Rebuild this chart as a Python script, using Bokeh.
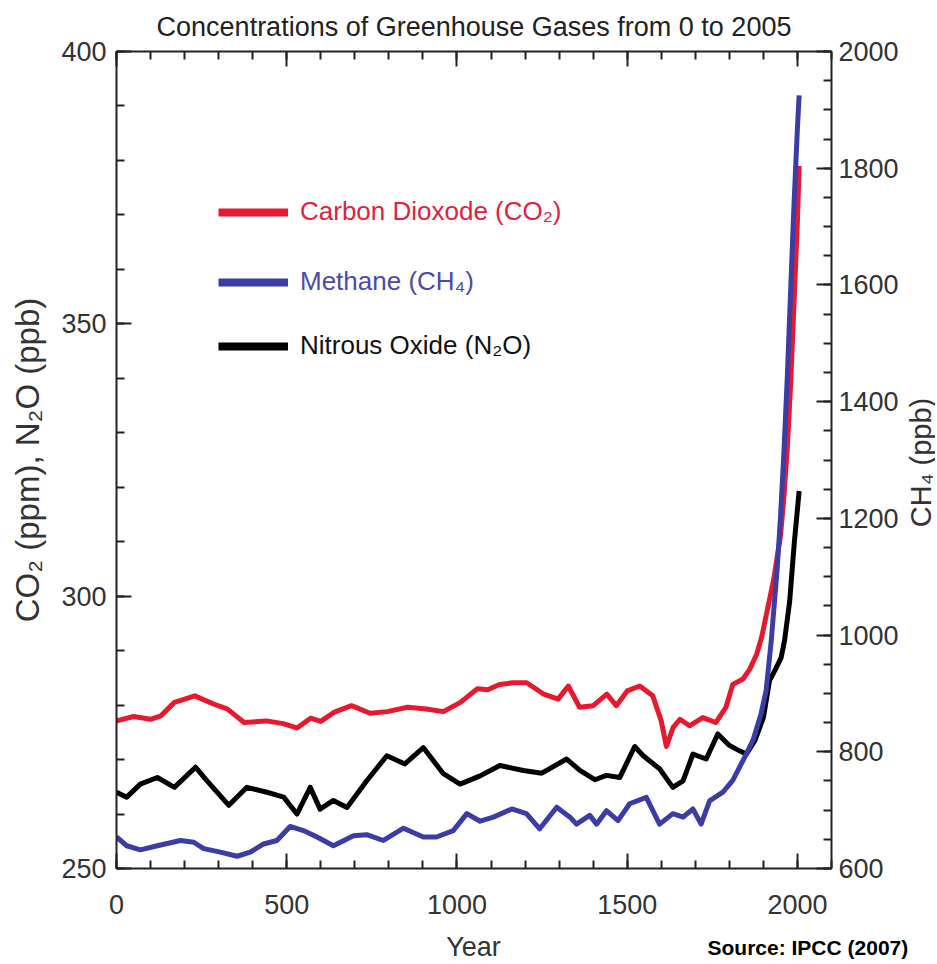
import math
from bokeh.plotting import figure
from bokeh.layouts import column, row
from bokeh.models import (Range1d, LinearAxis, SingleIntervalTicker, Label, Legend,
                          LegendItem, CustomJSTickFormatter, Title)
from bokeh.embed import file_html
from bokeh.resources import INLINE

# ---------------- data ----------------
co2_year = [0, 50, 100, 130, 170, 230, 285, 325, 375, 440, 490, 530, 570, 600, 640,
            690, 745, 795, 855, 910, 960, 1010, 1060, 1090, 1125, 1165, 1205, 1255,
            1297, 1327, 1360, 1400, 1440, 1468, 1500, 1537, 1575, 1600, 1615, 1635,
            1655, 1683, 1722, 1760, 1790, 1810, 1840, 1860, 1880, 1895, 1910, 1930,
            1950, 1960, 1970, 1980, 1990, 2000, 2005]
co2_ppm = [277.1, 277.9, 277.4, 278.0, 280.5, 281.7, 280.2, 279.3, 276.8, 277.1, 276.6,
           275.8, 277.6, 277.0, 278.7, 279.9, 278.5, 278.8, 279.6, 279.3, 278.8, 280.5,
           283.0, 282.8, 283.8, 284.1, 284.1, 282.0, 281.1, 283.5, 279.6, 279.9, 282.0,
           279.9, 282.6, 283.5, 281.7, 277.1, 272.4, 275.9, 277.4, 276.2, 277.7, 276.8,
           279.6, 283.8, 284.8, 286.6, 289.3, 292.5, 297.0, 303.0, 311.0, 318.0, 327.0,
           339.0, 354.0, 369.0, 379.0]

ch4_year = [0, 30, 70, 120, 188, 227, 256, 305, 354, 393, 432, 471, 510, 549, 589, 637,
            696, 735, 784, 843, 901, 940, 989, 1029, 1068, 1107, 1161, 1204, 1243, 1293,
            1332, 1351, 1390, 1410, 1439, 1473, 1507, 1556, 1595, 1634, 1664, 1693, 1717,
            1742, 1781, 1810, 1840, 1869, 1893, 1908, 1923, 1940, 1950, 1960, 1970, 1980,
            1990, 2000, 2005]
ch4_ppb = [654, 639, 632, 639, 648, 645, 634, 628, 621, 628, 642, 648, 672, 665, 654, 639,
           656, 658, 648, 669, 654, 654, 665, 694, 681, 688, 702, 694, 668, 705, 688, 676,
           691, 676, 699, 682, 711, 722, 676, 694, 688, 702, 676, 716, 731, 751, 785, 819,
           865, 905, 990, 1110, 1200, 1310, 1440, 1590, 1740, 1870, 1925]

n2o_year = [0, 30, 70, 120, 170, 232, 266, 330, 383, 442, 491, 530, 569, 598, 637, 677,
            735, 794, 847, 901, 960, 1009, 1068, 1126, 1195, 1249, 1322, 1361, 1405, 1439,
            1478, 1522, 1547, 1595, 1634, 1664, 1693, 1732, 1766, 1800, 1830, 1850, 1875,
            1900, 1918, 1935, 1952, 1962, 1977, 1991, 2005]
n2o_ppb = [264.0, 263.1, 265.5, 266.7, 264.9, 268.6, 266.1, 261.6, 264.9, 264.0, 263.1,
           260.0, 264.9, 260.9, 262.5, 261.2, 266.1, 270.7, 269.2, 272.2, 267.4, 265.5,
           267.0, 268.9, 268.0, 267.5, 270.1, 268.0, 266.3, 267.1, 266.7, 272.4, 270.7,
           268.3, 264.9, 266.1, 271.0, 270.1, 274.7, 272.6, 271.6, 271.0, 273.5, 277.7,
           284.5, 286.5, 288.7, 291.8, 299.0, 310.0, 319.3]

series_names = ["Carbon Dioxode (CO\u2082)", "Methane (CH\u2084)", "Nitrous Oxide (N\u2082O)"]
title_text = "Concentrations of Greenhouse Gases from 0 to 2005"
x_label = "Year"
y_label_left = "CO\u2082 (ppm), N\u2082O (ppb)"
y_label_right = "CH\u2084 (ppb)"
source_text = "Source: IPCC (2007)"

RED = "#e8192e"
BLUE = "#3b3ca6"
BLACK = "#000000"
FONT = "Liberation Sans"
W_MAIN = 901
W_STRIP = 34
H_MAIN = 928
H_FOOT = 34


def bare(fig):
    fig.outline_line_color = None
    fig.xgrid.visible = False
    fig.ygrid.visible = False
    fig.background_fill_color = "white"
    fig.border_fill_color = "white"
    if hasattr(fig, "frame_align"):
        fig.frame_align = False


p = figure(width=W_MAIN, height=H_MAIN, output_backend="svg", toolbar_location=None,
           x_range=Range1d(0, 2100), y_range=Range1d(250, 400),
           x_axis_location=None, y_axis_location=None,
           min_border_left=116, min_border_right=W_MAIN - 832, min_border_top=50,
           min_border_bottom=60)
p.extra_y_ranges = {"ch4": Range1d(600, 2000)}
bare(p)

p.title = Title(text=title_text, align="center", text_font=FONT, text_font_size="27px",
                text_font_style="normal", text_color="#222222", standoff=19)

# data lines
p.line(n2o_year, n2o_ppb, line_color=BLACK, line_width=5, line_join="round")
p.line(co2_year, co2_ppm, line_color=RED, line_width=5, line_join="round")
p.line(ch4_year, ch4_ppb, line_color=BLUE, line_width=5, line_join="round", y_range_name="ch4")

# hidden thick copies used only for the legend swatches
leg_red = p.line(co2_year, co2_ppm, line_color=RED, line_width=8, visible=False)
leg_blue = p.line(ch4_year, ch4_ppb, line_color=BLUE, line_width=8, visible=False,
                  y_range_name="ch4")
leg_black = p.line(n2o_year, n2o_ppb, line_color=BLACK, line_width=8, visible=False)


def style_axis(ax):
    ax.major_tick_in = 15
    ax.major_tick_out = 0
    ax.minor_tick_in = 8
    ax.minor_tick_out = 0
    ax.axis_line_width = 2
    ax.axis_line_color = "#222222"
    ax.major_tick_line_width = 2
    ax.minor_tick_line_width = 2
    ax.major_tick_line_color = "#222222"
    ax.minor_tick_line_color = "#222222"
    ax.major_label_text_font = FONT
    ax.major_label_text_font_size = "27px"
    ax.major_label_text_color = "#333333"
    ax.axis_label_text_font = FONT
    ax.axis_label_text_font_style = "normal"
    ax.axis_label_text_color = "#333333"


bottom = LinearAxis(ticker=SingleIntervalTicker(interval=500, num_minor_ticks=5),
                    major_label_standoff=26)
top = LinearAxis(ticker=SingleIntervalTicker(interval=500, num_minor_ticks=5),
                 formatter=CustomJSTickFormatter(code="return ''"), major_label_standoff=0)
left = LinearAxis(ticker=SingleIntervalTicker(interval=50, num_minor_ticks=5),
                  major_label_standoff=10, axis_label=y_label_left, axis_label_standoff=12)
right = LinearAxis(y_range_name="ch4", ticker=SingleIntervalTicker(interval=200, num_minor_ticks=4),
                   major_label_standoff=7)
for ax in (bottom, top, left, right):
    style_axis(ax)
top.major_label_text_font_size = "0px"
left.axis_label_text_font_size = "33px"
p.add_layout(bottom, "below")
p.add_layout(top, "above")
p.add_layout(left, "left")
p.add_layout(right, "right")

# legends (one per entry so each label keeps its own colour)
for rend, name, col, ypos in ((leg_red, series_names[0], "#e0223f", 641),
                              (leg_blue, series_names[1], "#4b4ca8", 571),
                              (leg_black, series_names[2], "#111111", 507)):
    lg = Legend(items=[LegendItem(label=name, renderers=[rend])], location=(102, ypos),
                padding=0, margin=0, border_line_color=None, background_fill_alpha=0,
                glyph_width=70, glyph_height=30, label_height=30, label_standoff=12,
                label_text_font=FONT, label_text_font_size="26px", label_text_color=col)
    p.add_layout(lg, "center")

# right strip with the CH4 axis title (reads bottom to top)
strip = figure(frame_width=W_STRIP, frame_height=H_MAIN, output_backend="svg",
               toolbar_location=None, title_location=None,
               x_range=Range1d(0, 1), y_range=Range1d(0, 1),
               x_axis_location=None, y_axis_location=None,
               min_border_left=0, min_border_right=0, min_border_top=0, min_border_bottom=0)
bare(strip)
strip.add_layout(Label(x=W_STRIP / 2 + 2, y=H_MAIN - 462, x_units="screen", y_units="screen",
                       text=y_label_right, angle=math.pi / 2,
                       text_align="center", text_baseline="middle",
                       text_font=FONT, text_font_size="29px", text_color="#333333"))

# footer strip holding the x-axis title and the source note
foot = figure(frame_width=W_MAIN + W_STRIP, frame_height=H_FOOT, output_backend="svg",
              toolbar_location=None, title_location=None,
              x_range=Range1d(0, 1), y_range=Range1d(0, 1),
              x_axis_location=None, y_axis_location=None,
              min_border_left=0, min_border_right=0, min_border_top=0, min_border_bottom=0)
bare(foot)
foot.add_layout(Label(x=473, y=16, x_units="screen", y_units="screen", text=x_label,
                      text_align="center", text_baseline="middle",
                      text_font=FONT, text_font_size="27px", text_color="#333333"))
foot.add_layout(Label(x=707, y=15, x_units="screen", y_units="screen", text=source_text,
                      text_align="left", text_baseline="middle",
                      text_font=FONT, text_font_size="21px", text_font_style="bold",
                      text_color="#000000"))

layout = column(row(p, strip, spacing=0), foot, spacing=0)
open("out.html", "w").write(file_html(layout, INLINE))
